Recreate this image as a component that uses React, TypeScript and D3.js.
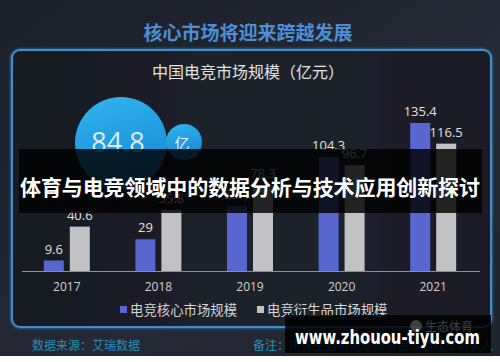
import React, { useEffect, useRef } from "react";
import * as d3 from "d3";

const years = ["2017", "2018", "2019", "2020", "2021"];
const coreMarket = [9.6, 29, 59.6, 104.3, 135.4];
const derivMarket = [40.6, 55.8, 78.3, 96.7, 116.5];
const seriesNames = ["电竞核心市场规模", "电竞衍生品市场规模"];
const seriesColors = ["#5866d0", "#c2c2c4"];

const App = () => {
  const ref = useRef<HTMLDivElement>(null);

  useEffect(() => {
    const width = 500;
    const height = 356;
    const baseline = 271;

    const svg = d3.create("svg")
      .attr("width", width)
      .attr("height", 362)
      .style("display", "block")
      .style("font-family", "'Noto Sans CJK SC', 'Noto Sans', sans-serif");

    const defs = svg.append("defs");
    const bg = defs.append("linearGradient").attr("id", "bg").attr("x1", 0).attr("y1", 0).attr("x2", 1).attr("y2", 1);
    bg.append("stop").attr("offset", "0%").attr("stop-color", "#1c2029");
    bg.append("stop").attr("offset", "60%").attr("stop-color", "#242935");
    bg.append("stop").attr("offset", "100%").attr("stop-color", "#20242e");

    const panelBg = defs.append("linearGradient").attr("id", "panelBg").attr("x1", 0).attr("y1", 0).attr("x2", 1).attr("y2", 0);
    panelBg.append("stop").attr("offset", "0%").attr("stop-color", "#171a22");
    panelBg.append("stop").attr("offset", "50%").attr("stop-color", "#1e222c");
    panelBg.append("stop").attr("offset", "100%").attr("stop-color", "#1a1d26");

    const bubble = defs.append("linearGradient").attr("id", "bubble").attr("x1", 0).attr("y1", 0).attr("x2", 0.3).attr("y2", 1);
    bubble.append("stop").attr("offset", "0%").attr("stop-color", "#33b6ef");
    bubble.append("stop").attr("offset", "100%").attr("stop-color", "#1689d6");

    const glow = defs.append("filter").attr("id", "glow").attr("x", "-5%").attr("y", "-5%").attr("width", "110%").attr("height", "110%");
    glow.append("feGaussianBlur").attr("stdDeviation", 1.5).attr("result", "b");
    const merge = glow.append("feMerge");
    merge.append("feMergeNode").attr("in", "b");
    merge.append("feMergeNode").attr("in", "SourceGraphic");

    svg.append("rect").attr("width", width).attr("height", 362).attr("fill", "#ffffff");
    svg.append("rect").attr("width", width).attr("height", height).attr("fill", "url(#bg)");

    // title
    svg.append("text")
      .attr("x", 248).attr("y", 40)
      .attr("text-anchor", "middle")
      .attr("font-size", 19).attr("font-weight", "bold")
      .attr("fill", "#4b8fd8")
      .text("核心市场将迎来跨越发展");

    // panel
    svg.append("rect")
      .attr("x", 12).attr("y", 50).attr("width", 479).attr("height", 277).attr("rx", 8)
      .attr("fill", "url(#panelBg)")
      .attr("stroke", "#3d8fce").attr("stroke-width", 2)
      .attr("filter", "url(#glow)");

    svg.append("text")
      .attr("x", 248).attr("y", 78)
      .attr("text-anchor", "middle")
      .attr("font-size", 16)
      .attr("fill", "#e2e2e2")
      .text("中国电竞市场规模（亿元）");

    // bubbles
    svg.append("circle").attr("cx", 121).attr("cy", 143).attr("r", 46).attr("fill", "url(#bubble)");
    svg.append("circle").attr("cx", 184).attr("cy", 142).attr("r", 18).attr("fill", "url(#bubble)");
    svg.append("text").attr("x", 118).attr("y", 152).attr("text-anchor", "middle")
      .attr("font-size", 27).attr("fill", "#dbeef8").attr("font-family", "'Open Sans', sans-serif")
      .text("84.8");
    svg.append("text").attr("x", 182).attr("y", 149).attr("text-anchor", "middle")
      .attr("font-size", 15).attr("fill", "#e6f3fb")
      .text("亿");

    // bars
    const x0 = d3.scaleBand().domain(years).range([21, 479]);
    const x1 = d3.scaleBand().domain(seriesNames).range([-23, 23]).paddingInner(0.23);
    const y = d3.scaleLinear().domain([0, 150]).range([baseline, baseline - 164]);

    const data = years.map((yr, i) => ({ yr, values: [coreMarket[i], derivMarket[i]] }));

    const groups = svg.append("g").selectAll("g").data(data).join("g")
      .attr("transform", d => `translate(${x0(d.yr)! + x0.bandwidth() / 2},0)`);

    groups.selectAll("rect")
      .data(d => d.values.map((v, j) => ({ v, j })))
      .join("rect")
      .attr("x", d => x1(seriesNames[d.j])!)
      .attr("width", x1.bandwidth())
      .attr("y", d => y(d.v))
      .attr("height", d => baseline - y(d.v))
      .attr("fill", d => seriesColors[d.j]);

    groups.selectAll("text.val")
      .data(d => d.values.map((v, j) => ({ v, j })))
      .join("text")
      .attr("class", "val")
      .attr("x", d => x1(seriesNames[d.j])! + x1.bandwidth() / 2)
      .attr("y", d => y(d.v) - 7)
      .attr("text-anchor", "middle")
      .attr("font-size", 13)
      .attr("font-family", "'Open Sans', sans-serif")
      .attr("fill", "#e0e0e0")
      .text(d => String(d.v));

    // axis
    const axis = svg.append("g").attr("transform", `translate(0,${baseline})`)
      .call(d3.axisBottom(x0).tickSize(0).tickPadding(11));
    axis.select(".domain").attr("stroke", "#8a8e96").attr("d", "M22,0.5H480");
    axis.selectAll("text")
      .attr("font-size", 12)
      .attr("font-family", "'Open Sans', sans-serif")
      .attr("fill", "#cfd0d3");

    // legend
    const legendX = [120, 257];
    const lg = svg.append("g").selectAll("g").data(seriesNames).join("g")
      .attr("transform", (d, i) => `translate(${legendX[i]},310)`);
    lg.append("rect").attr("x", 0).attr("y", -4).attr("width", 7).attr("height", 7)
      .attr("fill", (d, i) => seriesColors[i]);
    lg.append("text").attr("x", 10).attr("y", 5)
      .attr("font-size", 13.4).attr("fill", "#d4d5d8")
      .text(d => d);

    // footer
    svg.append("text").attr("x", 32).attr("y", 350)
      .attr("font-size", 12).attr("fill", "#2b8cb4")
      .text("数据来源：艾瑞数据");
    svg.append("text").attr("x", 253).attr("y", 350)
      .attr("font-size", 12).attr("fill", "#2b8cb4")
      .text("备注：电竞生态市场规模不包含游戏市场收入");

    // overlay banner
    svg.append("rect").attr("x", 19).attr("y", 149).attr("width", 463).attr("height", 64)
      .attr("fill", "#000").attr("fill-opacity", 0.82);
    svg.append("text").attr("x", 250).attr("y", 195)
      .attr("text-anchor", "middle")
      .attr("font-size", 21).attr("font-weight", "bold")
      .attr("fill", "#ffffff")
      .attr("textLength", 460)
      .text("体育与电竞领域中的数据分析与技术应用创新探讨");

    // watermark box
    svg.append("rect").attr("x", 285).attr("y", 315).attr("width", 206).attr("height", 38)
      .attr("fill", "#000").attr("fill-opacity", 0.85);
    svg.append("circle").attr("cx", 416).attr("cy", 326).attr("r", 6).attr("fill", "#777").attr("fill-opacity", 0.5);
    svg.append("text").attr("x", 425).attr("y", 331)
      .attr("font-size", 12).attr("fill", "#777").attr("fill-opacity", 0.5)
      .text("生态体育");
    svg.append("text").attr("x", 295).attr("y", 344)
      .attr("font-size", 20).attr("font-weight", "bold")
      .attr("font-family", "'DejaVu Sans', sans-serif")
      .attr("fill", "#ffffff")
      .attr("textLength", 185).attr("lengthAdjust", "spacingAndGlyphs")
      .text("www.zhouou-tiyu.com");

    if (ref.current) {
      ref.current.innerHTML = "";
      ref.current.appendChild(svg.node()!);
    }
  }, []);

  return <div ref={ref} style={{ position: "absolute", left: 0, top: 0 }} />;
};

export default App;
